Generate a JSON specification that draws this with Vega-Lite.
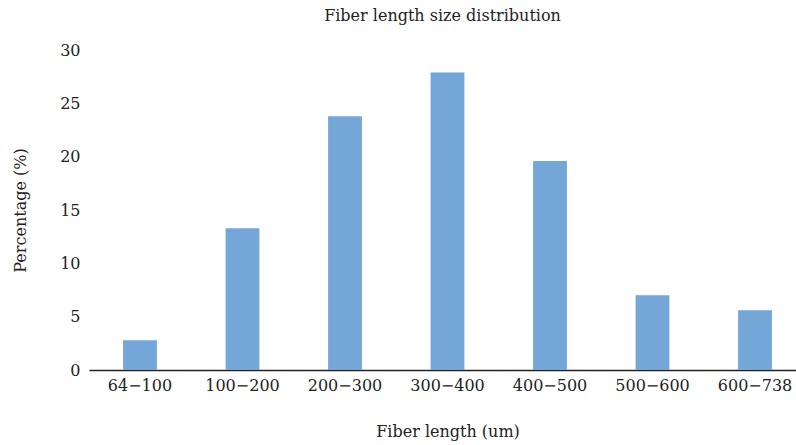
{
  "$schema": "https://vega.github.io/schema/vega-lite/v6.json",
  "autosize": "none",
  "padding": {"left": 89, "top": 50, "right": 0, "bottom": 75},
  "width": 707,
  "height": 320,
  "title": {
    "text": "Fiber length size distribution",
    "font": "DejaVu Serif",
    "fontSize": 16,
    "fontWeight": "normal",
    "color": "#222222",
    "offset": 18
  },
  "data": {
    "values": [
      {"range": "64−100", "pct": 2.8},
      {"range": "100−200", "pct": 13.3},
      {"range": "200−300", "pct": 23.8},
      {"range": "300−400", "pct": 27.9},
      {"range": "400−500", "pct": 19.6},
      {"range": "500−600", "pct": 7.0},
      {"range": "600−738", "pct": 5.6}
    ]
  },
  "mark": {"type": "bar", "color": "#74a6d7"},
  "encoding": {
    "x": {
      "field": "range",
      "type": "nominal",
      "sort": null,
      "title": "Fiber length (um)",
      "scale": {"range": [0, 717], "paddingInner": 0.67, "paddingOuter": 0.3325},
      "axis": {
        "labelAngle": 0,
        "ticks": false,
        "domainColor": "#222222",
        "domainWidth": 1.5,
        "labelPadding": 7,
        "titlePadding": 30
      }
    },
    "y": {
      "field": "pct",
      "type": "quantitative",
      "title": "Percentage (%)",
      "scale": {"domain": [0, 30], "nice": false},
      "axis": {
        "values": [0, 5, 10, 15, 20, 25, 30],
        "grid": false,
        "domain": false,
        "ticks": false,
        "labelPadding": 9,
        "titlePadding": 31
      }
    }
  },
  "config": {
    "view": {"stroke": null},
    "axis": {
      "labelFont": "DejaVu Serif",
      "labelFontSize": 16,
      "labelColor": "#222222",
      "titleFont": "DejaVu Serif",
      "titleFontSize": 16,
      "titleFontWeight": "normal",
      "titleColor": "#222222"
    }
  }
}
